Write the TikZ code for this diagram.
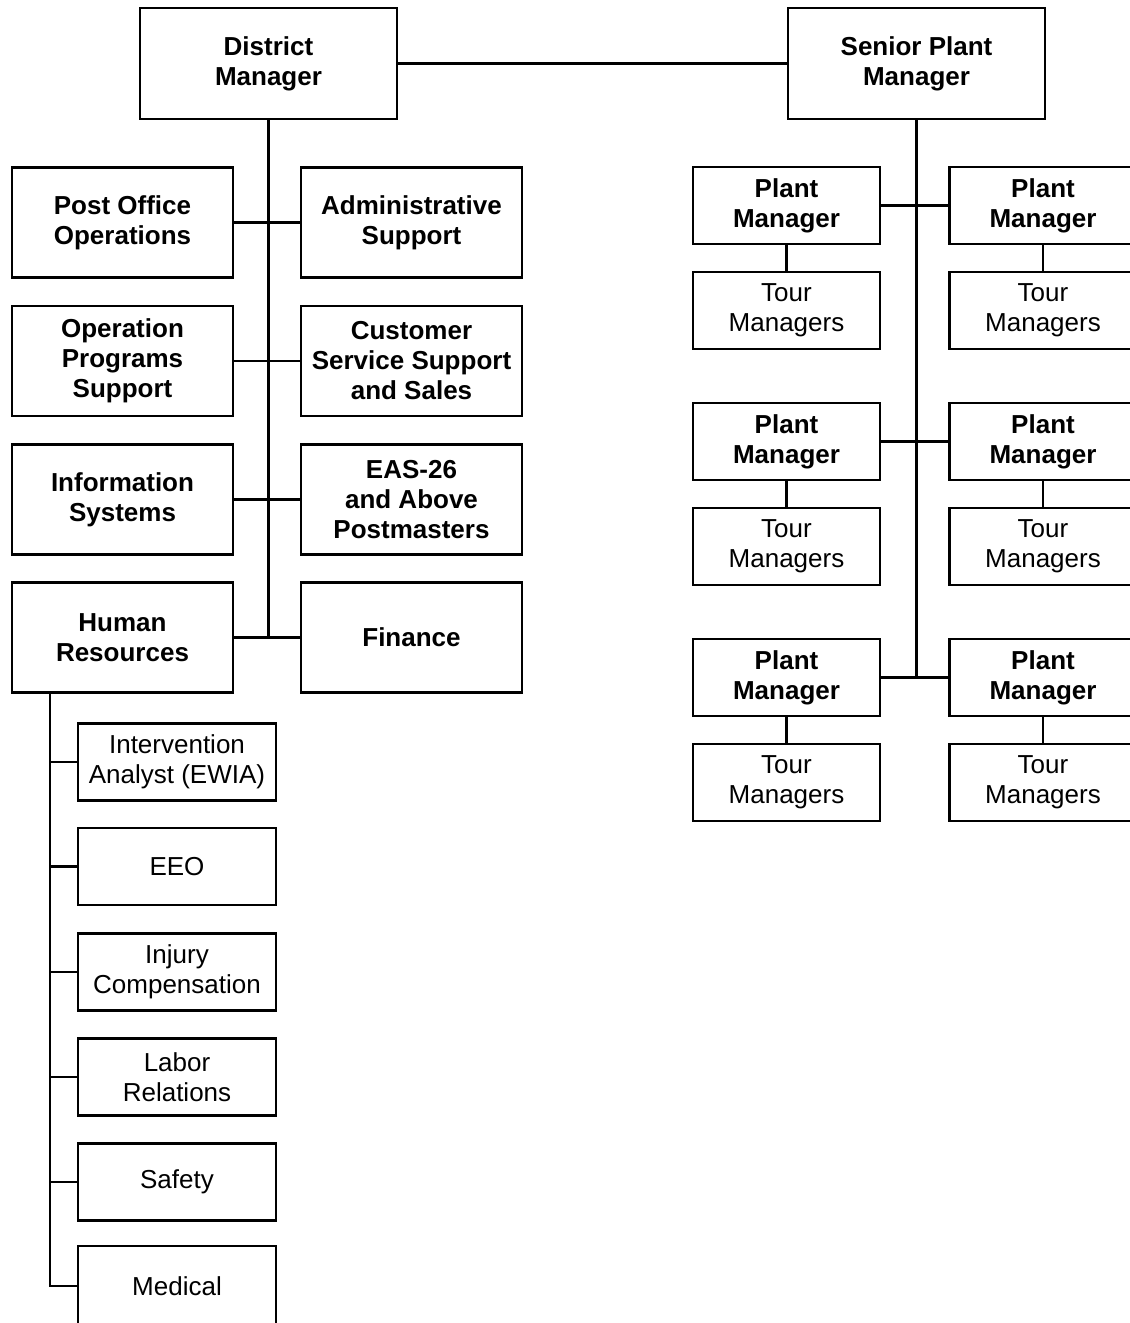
\documentclass[tikz,border=0pt]{standalone}
\usepackage{fontspec}
\setmainfont{Liberation Sans}
\usetikzlibrary{positioning}

\tikzset{
  orgbox/.style={draw, line width=2.5pt, inner sep=0pt, align=center,
    font=\fontsize{26}{30}\selectfont},
  headbox/.style={orgbox, font=\fontsize{26}{30}\selectfont\bfseries},
  topbox/.style={headbox, minimum width=257pt, minimum height=111pt},
  deptbox/.style={headbox, minimum width=221pt, minimum height=110pt},
  hrbox/.style={orgbox, minimum width=198pt, minimum height=77pt},
  plantbox/.style={headbox, minimum width=187pt, minimum height=77pt},
  tourbox/.style={orgbox, minimum width=187pt, minimum height=77pt},
  link/.style={line width=2.2pt},
}

\begin{document}
\begin{tikzpicture}[x=1pt, y=-1pt]
  \useasboundingbox (0,0) rectangle (1130,1323);

  % --- Top managers ---
  \node[topbox] (dm)  at (268.5,63.5) {District\\Manager};
  \node[topbox] (spm) at (916.5,63.5) {Senior Plant\\Manager};
  \draw[link] (dm.east) -- (spm.west);

  % --- District staff ---
  \node[deptbox] (poo) at (122.5,222.5) {Post Office\\Operations};
  \node[deptbox] (adm) at (411.5,222.5) {Administrative\\Support};
  \node[deptbox] (ops) at (122.5,361)   {Operation\\Programs\\Support};
  \node[deptbox] (css) at (411.5,361)   {Customer\\Service Support\\and Sales};
  \node[deptbox] (ins) at (122.5,499.5) {Information\\Systems};
  \node[deptbox] (eas) at (411.5,499.5) {EAS-26\\and Above\\Postmasters};
  \node[deptbox] (hr)  at (122.5,637.5) {Human\\Resources};
  \node[deptbox] (fin) at (411.5,637.5) {Finance};

  \draw[link] (dm.south) -- (dm.south |- fin.west);
  \draw[link] (poo.east) -- (adm.west);
  \draw[link] (ops.east) -- (css.west);
  \draw[link] (ins.east) -- (eas.west);
  \draw[link] (hr.east) -- (fin.west);

  % --- Human Resources units ---
  \node[hrbox] (iea) at (177,762)    {Intervention\\Analyst (EWIA)};
  \node[hrbox] (eeo) at (177,866.5)  {EEO};
  \node[hrbox] (inj) at (177,972)    {Injury\\Compensation};
  \node[hrbox] (lab) at (177,1077)   {Labor\\Relations};
  \node[hrbox] (saf) at (177,1182)   {Safety};
  \node[hrbox, minimum height=80pt] (med) at (177,1286) {Medical};

  \coordinate (hrtop) at (50,692.5);
  \draw[link] (hrtop) |- (med.west);
  \foreach \u in {iea,eeo,inj,lab,saf}
    \draw[link] (hrtop |- \u.west) -- (\u.west);

  % --- Plants ---
  \node[plantbox] (pm1) at (786.5,205.5) {Plant\\Manager};
  \node[plantbox] (pm2) at (1043,205.5)  {Plant\\Manager};
  \node[plantbox] (pm3) at (786.5,441.5) {Plant\\Manager};
  \node[plantbox] (pm4) at (1043,441.5)  {Plant\\Manager};
  \node[plantbox] (pm5) at (786.5,677.5) {Plant\\Manager};
  \node[plantbox] (pm6) at (1043,677.5)  {Plant\\Manager};

  \node[tourbox] (tm1) at (786.5,310.5) {Tour\\Managers};
  \node[tourbox] (tm2) at (1043,310.5)  {Tour\\Managers};
  \node[tourbox] (tm3) at (786.5,546.5) {Tour\\Managers};
  \node[tourbox] (tm4) at (1043,546.5)  {Tour\\Managers};
  \node[tourbox] (tm5) at (786.5,782.5) {Tour\\Managers};
  \node[tourbox] (tm6) at (1043,782.5)  {Tour\\Managers};

  \draw[link] (spm.south) -- (spm.south |- pm5.east);
  \draw[link] (pm1.east) -- (pm2.west);
  \draw[link] (pm3.east) -- (pm4.west);
  \draw[link] (pm5.east) -- (pm6.west);
  \foreach \i in {1,...,6}
    \draw[link] (pm\i) -- (tm\i);
\end{tikzpicture}
\end{document}
